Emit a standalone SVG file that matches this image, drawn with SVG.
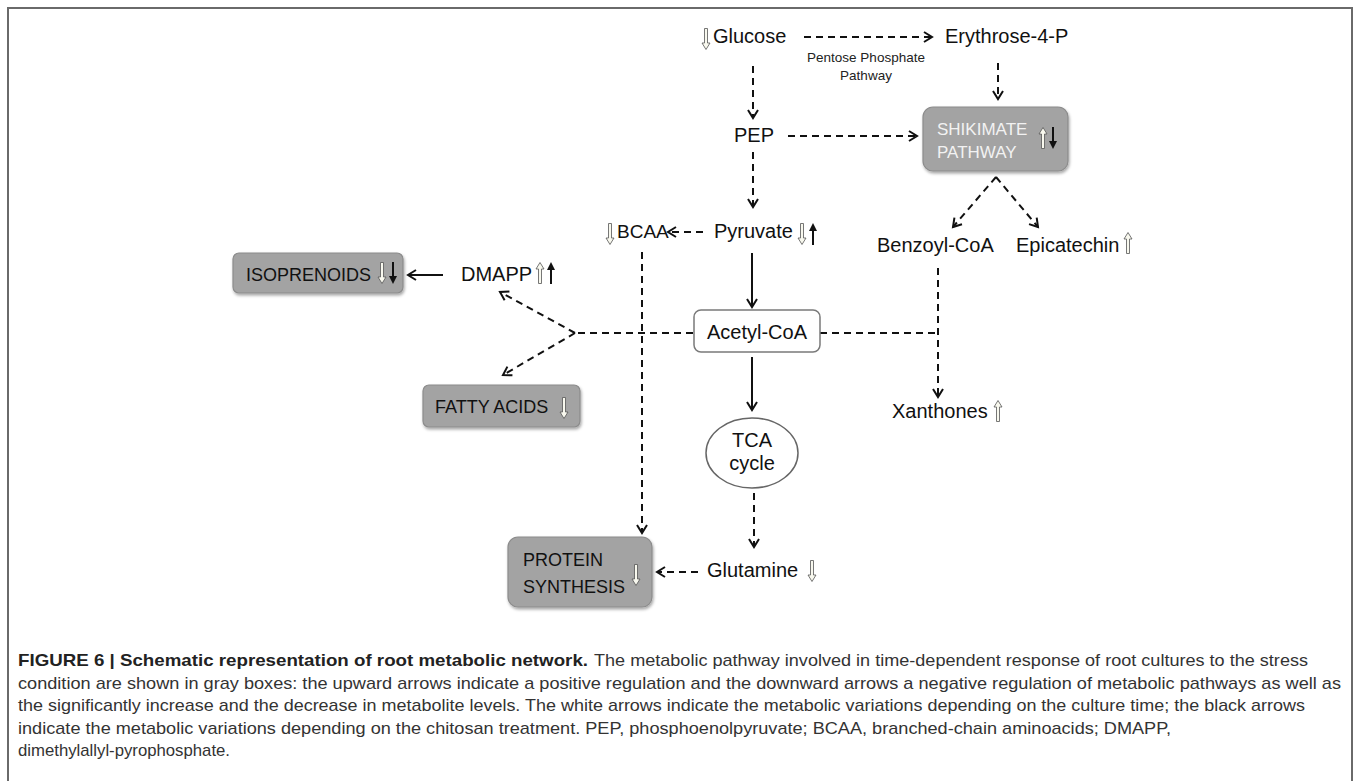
<svg xmlns="http://www.w3.org/2000/svg" xmlns:xlink="http://www.w3.org/1999/xlink" width="1357" height="781" viewBox="0 0 1357 781">
<style>
.lbl{font-family:"Liberation Sans",Arial,sans-serif;font-size:20px;fill:#111}
.small{font-family:"Liberation Sans",Arial,sans-serif;font-size:13.5px;fill:#222}
.box{fill:#a3a3a3;stroke:#8c8c8c;stroke-width:1.2;filter:url(#sh)}
.boxt{font-family:"Liberation Sans",Arial,sans-serif;font-size:18px;fill:#111}
.wbox{fill:#fff;stroke:#7a7a7a;stroke-width:1.5}
.dash{fill:none;stroke:#111;stroke-width:2;stroke-dasharray:7 5}
.solid{fill:none;stroke:#111;stroke-width:2}
.arr{marker-end:url(#head)}
.cap{font-family:"Liberation Sans",Arial,sans-serif;font-size:17px;fill:#333}
.capb{font-family:"Liberation Sans",Arial,sans-serif;font-size:17px;font-weight:bold;fill:#222}
</style>
<defs>
<marker id="head" markerUnits="userSpaceOnUse" markerWidth="12" markerHeight="14" viewBox="-1 -7 11 14" refX="8" refY="0" orient="auto">
<path d="M0,-5 L8,0 L0,5" fill="none" stroke="#111" stroke-width="2"/>
</marker>
<filter id="sh" x="-10%" y="-10%" width="125%" height="140%">
<feDropShadow dx="1" dy="2" stdDeviation="1.5" flood-color="#000" flood-opacity="0.35"/>
</filter>
<symbol id="wdown" viewBox="0 0 10 22"><path d="M3.5,0.5 H6.5 V15 H9 L5,21.5 L1,15 H3.5 Z" fill="#f8f8ee" stroke="#555" stroke-width="0.8"/></symbol>
<symbol id="wup" viewBox="0 0 10 22"><path d="M5,0.5 L9,7 H6.5 V21.5 H3.5 V7 H1 Z" fill="#f8f8ee" stroke="#555" stroke-width="0.8"/></symbol>
<symbol id="bdown" viewBox="0 0 10 22"><path d="M4,0 H6 V14 H9 L5,22 L1,14 H4 Z" fill="#111"/></symbol>
<symbol id="bup" viewBox="0 0 10 22"><path d="M5,0 L9,8 H6 V22 H4 V8 H1 Z" fill="#111"/></symbol>
</defs>
<rect x="0" y="0" width="1357" height="781" fill="#fff"/>
<path d="M8,781 V8 H1352 V781" fill="none" stroke="#6a6a6a" stroke-width="2"/>

<g id="connectors">
<path class="dash arr" d="M804,37 L932,37"/>
<path class="dash arr" d="M753,66 L753,118"/>
<path class="dash arr" d="M998,63 L998,99"/>
<path class="dash arr" d="M788,136 L917,136"/>
<path class="dash arr" d="M753,152 L753,207"/>
<path class="dash arr" d="M703,232 L668,232"/>
<path class="solid arr" d="M752,253 L752,307"/>
<path class="solid arr" d="M752,357 L752,410"/>
<path class="dash arr" d="M754,493 L754,547"/>
<path class="dash arr" d="M698,572 L657,572"/>
<path class="dash arr" d="M642,252 L642,533"/>
<path class="dash" d="M693,333 L575,333"/>
<path class="dash arr" d="M575,333 L500,292"/>
<path class="dash arr" d="M575,333 L503,375"/>
<path class="solid arr" d="M443,275 L408,275"/>
<path class="dash arr" d="M996,177 L953,227"/>
<path class="dash arr" d="M996,177 L1038,227"/>
<path class="dash" d="M820,333 L938,333"/>
<path class="dash arr" d="M938,268 L938,397"/>
</g>

<g id="glucose">
<use href="#wdown" x="701" y="28" width="10" height="22"/>
<text class="lbl" x="713" y="43">Glucose</text>
</g>
<g id="erythrose">
<text class="lbl" x="945" y="43">Erythrose-4-P</text>
</g>
<g id="pentose-label">
<text class="small" x="866" y="62" text-anchor="middle">Pentose Phosphate</text>
<text class="small" x="866" y="80" text-anchor="middle">Pathway</text>
</g>
<g id="pep">
<text class="lbl" x="754" y="142" text-anchor="middle">PEP</text>
</g>
<g id="shikimate">
<rect class="box" x="923" y="107" width="145" height="64" rx="10"/>
<text class="boxt" x="937" y="135" style="fill:#f2f2f2;font-size:17px">SHIKIMATE</text>
<text class="boxt" x="937" y="158" style="fill:#f2f2f2;font-size:17px">PATHWAY</text>
<use href="#wup" x="1038" y="127" width="10" height="22"/>
<use href="#bdown" x="1048" y="127" width="10" height="22"/>
</g>
<g id="pyruvate">
<text class="lbl" x="714" y="238">Pyruvate</text>
<use href="#wdown" x="797" y="223" width="10" height="22"/>
<use href="#bup" x="808" y="223" width="10" height="22"/>
</g>
<g id="bcaa">
<use href="#wdown" x="605" y="223" width="10" height="22"/>
<text class="lbl" x="617" y="238" style="font-size:19px">BCAA</text>
</g>
<g id="benzoyl">
<text class="lbl" x="877" y="252">Benzoyl-CoA</text>
</g>
<g id="epicatechin">
<text class="lbl" x="1016" y="252">Epicatechin</text>
<use href="#wup" x="1123" y="232" width="10" height="22"/>
</g>
<g id="acetyl">
<rect class="wbox" x="694" y="310" width="126" height="42" rx="7"/>
<text class="lbl" x="757" y="339" text-anchor="middle">Acetyl-CoA</text>
</g>
<g id="isoprenoids">
<rect class="box" x="233" y="253" width="170" height="40" rx="6"/>
<text class="boxt" x="246" y="281">ISOPRENOIDS</text>
<use href="#wdown" x="377" y="262" width="10" height="22"/>
<use href="#bdown" x="388" y="262" width="10" height="22"/>
</g>
<g id="dmapp">
<text class="lbl" x="461" y="281">DMAPP</text>
<use href="#wup" x="535" y="262" width="10" height="22"/>
<use href="#bup" x="546" y="262" width="10" height="22"/>
</g>
<g id="fatty-acids">
<rect class="box" x="423" y="385" width="157" height="42" rx="6"/>
<text class="boxt" x="435" y="413">FATTY ACIDS</text>
<use href="#wdown" x="559" y="397" width="10" height="22"/>
</g>
<g id="xanthones">
<text class="lbl" x="892" y="418">Xanthones</text>
<use href="#wup" x="993" y="400" width="10" height="22"/>
</g>
<g id="tca">
<ellipse cx="752" cy="453" rx="46" ry="35" fill="#fff" stroke="#666" stroke-width="1.5"/>
<text class="lbl" x="752" y="447" text-anchor="middle">TCA</text>
<text class="lbl" x="752" y="470" text-anchor="middle">cycle</text>
</g>
<g id="glutamine">
<text class="lbl" x="707" y="577">Glutamine</text>
<use href="#wdown" x="807" y="560" width="10" height="22"/>
</g>
<g id="protein-synthesis">
<rect class="box" x="508" y="537" width="144" height="70" rx="10"/>
<text class="boxt" x="523" y="566">PROTEIN</text>
<text class="boxt" x="523" y="593">SYNTHESIS</text>
<use href="#wdown" x="631" y="563" width="10" height="24"/>
</g>

<g id="caption">
<text class="capb" x="18" y="666" textLength="570" lengthAdjust="spacingAndGlyphs">FIGURE 6 | Schematic representation of root metabolic network.</text>
<text class="cap" x="594" y="666" textLength="714" lengthAdjust="spacingAndGlyphs">The metabolic pathway involved in time-dependent response of root cultures to the stress</text>
<text class="cap" x="18" y="688.5" textLength="1323" lengthAdjust="spacingAndGlyphs">condition are shown in gray boxes: the upward arrows indicate a positive regulation and the downward arrows a negative regulation of metabolic pathways as well as</text>
<text class="cap" x="18" y="711" textLength="1287" lengthAdjust="spacingAndGlyphs">the significantly increase and the decrease in metabolite levels. The white arrows indicate the metabolic variations depending on the culture time; the black arrows</text>
<text class="cap" x="18" y="733.5" textLength="1153" lengthAdjust="spacingAndGlyphs">indicate the metabolic variations depending on the chitosan treatment. PEP, phosphoenolpyruvate; BCAA, branched-chain aminoacids; DMAPP,</text>
<text class="cap" x="18" y="756" textLength="212" lengthAdjust="spacingAndGlyphs">dimethylallyl-pyrophosphate.</text>
</g>
</svg>
